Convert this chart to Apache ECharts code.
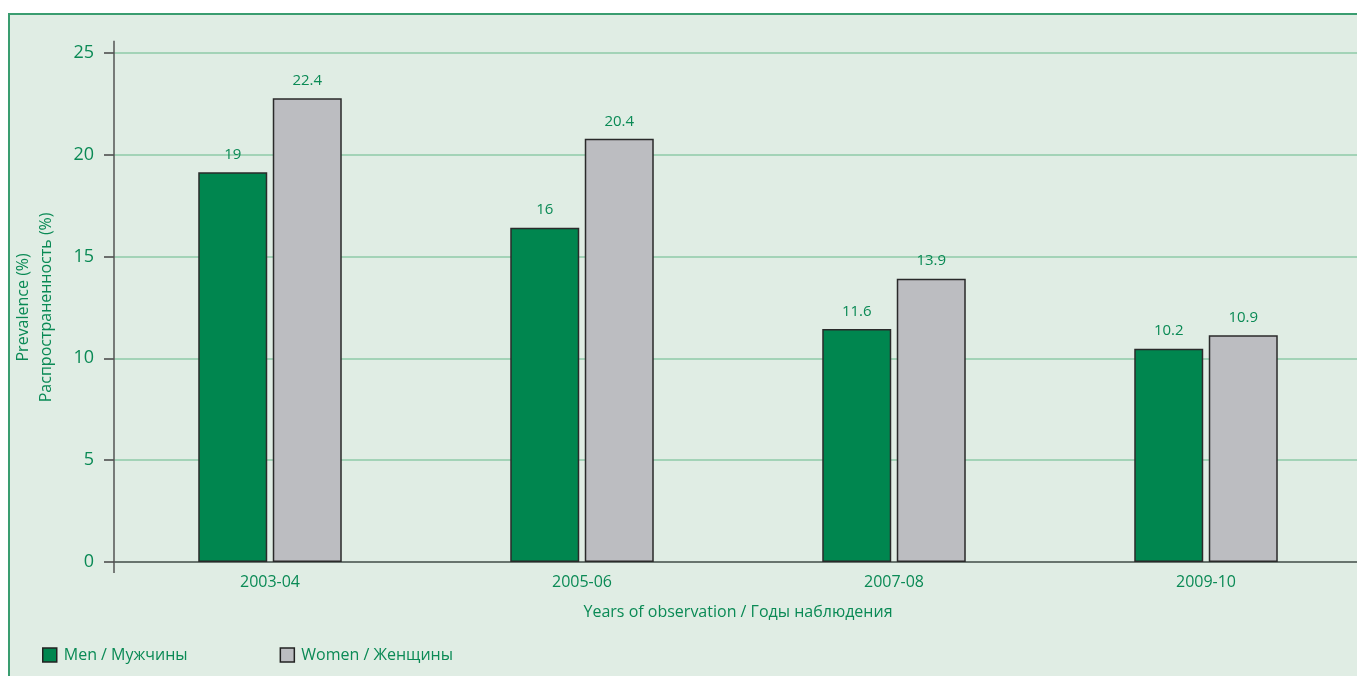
<!DOCTYPE html>
<html>
<head>
<meta charset="utf-8">
<script src="https://cdn.jsdelivr.net/npm/echarts@6/dist/echarts.min.js"></script>
<style>
  html, body { margin: 0; padding: 0; background: #ffffff; }
  #frame { position: absolute; left: 8px; top: 13px; width: 1360px; height: 700px;
           background: #e0ede4; border: 2px solid #3a9d70; box-sizing: border-box; }
  #chart { position: absolute; left: 0; top: 0; width: 1357px; height: 676px; }
</style>
</head>
<body>
<div id="frame"></div>
<div id="chart"></div>
<script>
const categories = ['2003-04', '2005-06', '2007-08', '2009-10'];
const menValues = [19.13, 16.41, 11.44, 10.47];
const womenValues = [22.76, 20.77, 13.91, 11.13];
const menLabels = ['19', '16', '11.6', '10.2'];
const womenLabels = ['22.4', '20.4', '13.9', '10.9'];
const yTicks = [0, 5, 10, 15, 20, 25];

const GREEN_TEXT = '#0a8a55';
const FONT = '"Open Sans", "Noto Sans", sans-serif';

const chart = echarts.init(document.getElementById('chart'), null, { renderer: 'canvas' });

const option = {
  backgroundColor: 'transparent',
  animation: false,
  textStyle: { fontFamily: FONT },
  grid: { left: 114, top: 52.7, width: 1248, height: 509.3, containLabel: false, outerBoundsMode: 'none' },
  legend: {
    left: 42, top: 647, padding: 0,
    itemWidth: 14, itemHeight: 14, itemGap: 92,
    icon: 'rect',
    itemStyle: { borderColor: '#222', borderWidth: 1.5 },
    textStyle: { color: GREEN_TEXT, fontSize: 16, fontFamily: FONT, padding: [0, 0, 0, 2] },
    data: ['Men / Мужчины', 'Women / Женщины']
  },
  xAxis: {
    type: 'category',
    data: categories,
    boundaryGap: true,
    axisLine: { show: true, lineStyle: { color: '#555', width: 1.5 } },
    axisTick: { show: false },
    axisLabel: { color: GREEN_TEXT, fontSize: 16, fontFamily: FONT, margin: 12 },
    name: 'Years of observation / Годы наблюдения',
    nameLocation: 'middle',
    nameGap: 42,
    nameTextStyle: { color: GREEN_TEXT, fontSize: 16, fontFamily: FONT }
  },
  yAxis: {
    type: 'value',
    min: 0, max: 25, interval: 5,
    axisLine: { show: false },
    axisTick: { show: true, inside: false, length: 10, lineStyle: { color: '#444', width: 1.5 } },
    axisLabel: {
      color: GREEN_TEXT, fontSize: 18, fontFamily: FONT, margin: 20,
      formatter: function (v) { return yTicks.indexOf(v) >= 0 ? String(v) : ''; }
    },
    splitLine: { show: true, lineStyle: { color: '#8fcaa9', width: 1.5 } },
    name: 'Prevalence (%)\nРаспространенность (%)',
    nameLocation: 'middle',
    nameRotate: 90,
    nameGap: 56,
    nameMoveOverlap: false,
    nameTextStyle: { color: GREEN_TEXT, fontSize: 16, fontFamily: FONT, lineHeight: 23, align: 'center' }
  },
  series: [
    {
      name: 'Men / Мужчины',
      type: 'bar',
      data: menValues,
      barWidth: 69,
      barGap: '8%',
      itemStyle: { color: '#00864f', borderColor: '#2a2a2a', borderWidth: 1.5 },
      label: {
        show: true, position: 'top', distance: 10,
        color: GREEN_TEXT, fontSize: 15, fontFamily: FONT,
        formatter: function (p) { return menLabels[p.dataIndex]; }
      }
    },
    {
      name: 'Women / Женщины',
      type: 'bar',
      data: womenValues,
      barWidth: 69,
      barGap: '8%',
      itemStyle: { color: '#bcbdc1', borderColor: '#2a2a2a', borderWidth: 1.5 },
      label: {
        show: true, position: 'top', distance: 10,
        color: GREEN_TEXT, fontSize: 15, fontFamily: FONT,
        formatter: function (p) { return womenLabels[p.dataIndex]; }
      }
    }
  ]
};

chart.setOption(option);

// Extended vertical axis line (overshoots the plot area as in the reference)
const topPt = chart.convertToPixel({ gridIndex: 0 }, [categories[0], 25]);
const botPt = chart.convertToPixel({ gridIndex: 0 }, [categories[0], 0]);
const axisX = chart.getModel().getComponent('grid', 0).coordinateSystem.getRect().x;
chart.setOption({
  graphic: [{
    type: 'line',
    shape: { x1: axisX, y1: topPt[1] - 12, x2: axisX, y2: botPt[1] + 11 },
    style: { stroke: '#555', lineWidth: 1.5 },
    z: 10
  }]
});
</script>
</body>
</html>
